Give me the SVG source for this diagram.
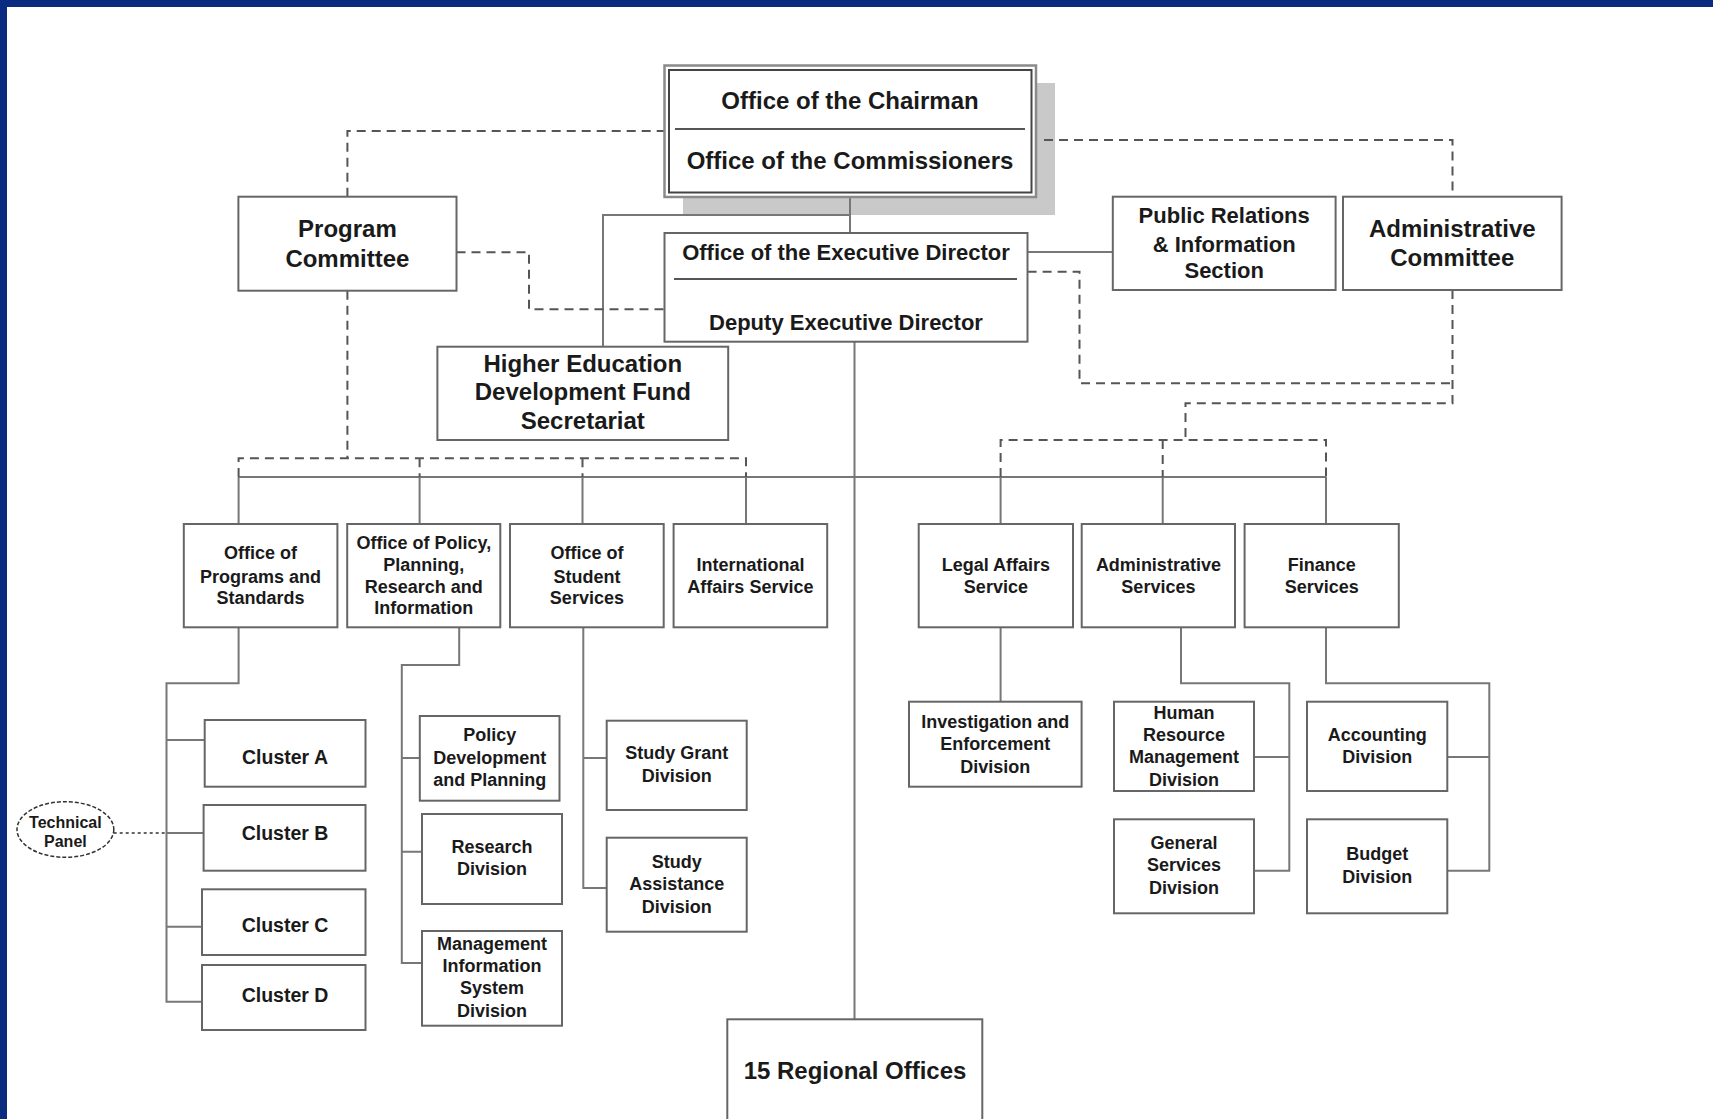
<svg xmlns="http://www.w3.org/2000/svg" width="1713" height="1119" viewBox="0 0 1713 1119">
<style>
.box{fill:#fff;stroke:#666;stroke-width:2}
.t{font-family:"Liberation Sans",Arial,sans-serif;font-weight:bold;fill:#1a1a1a;text-anchor:middle;dominant-baseline:central}
.s18{font-size:18px}
.conn{stroke:#777;stroke-width:2;fill:none}
.dash{stroke:#555;stroke-width:2;stroke-dasharray:9 6;fill:none}
.dot{stroke:#333;stroke-width:1.5;stroke-dasharray:3 3;fill:none}
</style>
<rect x="0" y="0" width="1713" height="1119" fill="#fff"/>
<rect x="0" y="0" width="1713" height="7" fill="#0a2b80"/>
<rect x="0" y="0" width="7" height="1119" fill="#0a2b80"/>
<rect x="683" y="83" width="372" height="132" fill="#c9c9c9"/>
<g id="connectors">
<path class="conn" d="M850 197V233M850 215H603V346.7M1027.6 252H1112.8M854.5 341.7V1019.3M238.6 477H1326"/>
<path class="conn" d="M238.6 477V524M419.6 477V524M582.5 477V524M746 477V524M1000.6 477V524M1162.7 477V524M1326 477V524"/>
<path class="conn" d="M238.6 627.3V683.3H166.5V1001.7H202M166.5 740H204.7M166.5 833H203.6M166.5 926.7H202"/>
<path class="conn" d="M459.2 627.3V665H401.8V963H422M401.8 758H419.8M401.8 851.7H422"/>
<path class="conn" d="M583.3 627.3V888H606.7M583.3 758H606.7"/>
<path class="conn" d="M1000.6 627.3V701.7"/>
<path class="conn" d="M1181 627.3V683.3H1289.3V870.7H1254M1289.3 757H1254"/>
<path class="conn" d="M1326 627.3V683.3H1489.3V870.7H1447.3M1489.3 757H1447.3"/>
<path class="dash" d="M347.4 196.7V131H664.5"/>
<path class="dash" d="M456.5 252.3H529V309.3H664.5"/>
<path class="dash" d="M347.4 290.7V458.3"/>
<path class="dash" d="M238.6 477V458.3H746V477M419.6 458.3V477M582.5 458.3V477"/>
<path class="dash" d="M1044 140H1452.5V196.7"/>
<path class="dash" d="M1027.6 271.7H1079.5V383.3H1452.5"/>
<path class="dash" d="M1452.5 290V403.3H1185.5V440"/>
<path class="dash" d="M1000.6 477V440H1326V477M1162.7 440V477"/>
<path class="dot" d="M113.7 833H166.5"/>
</g>
<g id="chairman">
<rect x="664.5" y="65.5" width="371.5" height="131.5" fill="#fff" stroke="#8a8a8a" stroke-width="2.5"/>
<rect x="669" y="70" width="362.5" height="122.5" fill="none" stroke="#444" stroke-width="2"/>
<path d="M675 129H1025" stroke="#555" stroke-width="2"/>
<text class="t" x="850" y="100" font-size="24">Office of the Chairman</text>
<text class="t" x="850" y="160" font-size="24">Office of the Commissioners</text>
</g>
<g id="exec">
<rect class="box" x="664.5" y="233" width="363" height="108.7"/>
<path d="M674 279H1017" stroke="#555" stroke-width="2"/>
<text class="t" x="846" y="252" font-size="22">Office of the Executive Director</text>
<text class="t" x="846" y="322" font-size="22">Deputy Executive Director</text>
</g>
<g id="program-committee">
<rect class="box" x="238.4" y="196.7" width="218.1" height="94"/>
<text class="t" x="347.4" y="228" font-size="24">Program</text>
<text class="t" x="347.4" y="258" font-size="24">Committee</text>
</g>
<g id="hedf">
<rect class="box" x="437.4" y="346.7" width="290.8" height="93.3"/>
<text class="t" x="582.8" y="363" font-size="24">Higher Education</text>
<text class="t" x="582.8" y="391.7" font-size="24">Development Fund</text>
<text class="t" x="582.8" y="420" font-size="24">Secretariat</text>
</g>
<g id="public-relations">
<rect class="box" x="1112.8" y="196.7" width="222.8" height="93.3"/>
<text class="t" x="1224.2" y="215" font-size="22">Public Relations</text>
<text class="t" x="1224.2" y="244" font-size="22">&amp; Information</text>
<text class="t" x="1224.2" y="270" font-size="22">Section</text>
</g>
<g id="admin-committee">
<rect class="box" x="1343" y="196.7" width="218.6" height="93.3"/>
<text class="t" x="1452.3" y="228.3" font-size="24">Administrative</text>
<text class="t" x="1452.3" y="257.3" font-size="24">Committee</text>
</g>
<g id="programs-standards">
<rect class="box" x="183.8" y="524" width="153.6" height="103.3"/>
<text class="t s18" x="260.6" y="553.3">Office of</text>
<text class="t s18" x="260.6" y="576.7">Programs and</text>
<text class="t s18" x="260.6" y="598.3">Standards</text>
</g>
<g id="policy-planning">
<rect class="box" x="347.2" y="524" width="153.1" height="103.3"/>
<text class="t s18" x="423.8" y="543.3">Office of Policy,</text>
<text class="t s18" x="423.8" y="565">Planning,</text>
<text class="t s18" x="423.8" y="586.7">Research and</text>
<text class="t s18" x="423.8" y="608.3">Information</text>
</g>
<g id="student-services">
<rect class="box" x="510" y="524" width="153.7" height="103.3"/>
<text class="t s18" x="586.9" y="553.3">Office of</text>
<text class="t s18" x="586.9" y="576.7">Student</text>
<text class="t s18" x="586.9" y="598.3">Services</text>
</g>
<g id="international">
<rect class="box" x="673.6" y="524" width="153.6" height="103.3"/>
<text class="t s18" x="750.4" y="565">International</text>
<text class="t s18" x="750.4" y="586.7">Affairs Service</text>
</g>
<g id="legal">
<rect class="box" x="918.7" y="524" width="154.3" height="103.3"/>
<text class="t s18" x="995.9" y="565">Legal Affairs</text>
<text class="t s18" x="995.9" y="586.7">Service</text>
</g>
<g id="admin-services">
<rect class="box" x="1081.7" y="524" width="153.3" height="103.3"/>
<text class="t s18" x="1158.4" y="565">Administrative</text>
<text class="t s18" x="1158.4" y="586.7">Services</text>
</g>
<g id="finance">
<rect class="box" x="1244.6" y="524" width="154.2" height="103.3"/>
<text class="t s18" x="1321.7" y="565">Finance</text>
<text class="t s18" x="1321.7" y="586.7">Services</text>
</g>
<g id="cluster-a">
<rect class="box" x="204.7" y="720" width="160.8" height="66.7"/>
<text class="t" x="285" y="756.7" font-size="19.5">Cluster A</text>
</g>
<g id="cluster-b">
<rect class="box" x="203.6" y="805" width="161.9" height="65.7"/>
<text class="t" x="285" y="832.7" font-size="19.5">Cluster B</text>
</g>
<g id="cluster-c">
<rect class="box" x="202" y="889.3" width="163.5" height="65.7"/>
<text class="t" x="285" y="925" font-size="19.5">Cluster C</text>
</g>
<g id="cluster-d">
<rect class="box" x="202" y="965" width="163.5" height="65"/>
<text class="t" x="285" y="995" font-size="19.5">Cluster D</text>
</g>
<g id="technical-panel">
<ellipse cx="65.4" cy="829.5" rx="48.4" ry="27.8" fill="#fff" stroke="#333" stroke-width="1.5" stroke-dasharray="4 2"/>
<text class="t" x="65.4" y="822.7" font-size="16">Technical</text>
<text class="t" x="65.4" y="841.7" font-size="16">Panel</text>
</g>
<g id="policy-development">
<rect class="box" x="419.8" y="716" width="139.7" height="84.7"/>
<text class="t s18" x="489.7" y="735">Policy</text>
<text class="t s18" x="489.7" y="758.3">Development</text>
<text class="t s18" x="489.7" y="780">and Planning</text>
</g>
<g id="research">
<rect class="box" x="422" y="814" width="140" height="90"/>
<text class="t s18" x="492" y="846.7">Research</text>
<text class="t s18" x="492" y="869.3">Division</text>
</g>
<g id="mis">
<rect class="box" x="422" y="931" width="140" height="94.7"/>
<text class="t s18" x="492" y="944">Management</text>
<text class="t s18" x="492" y="966">Information</text>
<text class="t s18" x="492" y="988.3">System</text>
<text class="t s18" x="492" y="1010.7">Division</text>
</g>
<g id="study-grant">
<rect class="box" x="606.7" y="720.7" width="140" height="89.3"/>
<text class="t s18" x="676.7" y="753.3">Study Grant</text>
<text class="t s18" x="676.7" y="776">Division</text>
</g>
<g id="study-assistance">
<rect class="box" x="606.7" y="837.7" width="140" height="94"/>
<text class="t s18" x="676.7" y="861.7">Study</text>
<text class="t s18" x="676.7" y="884">Assistance</text>
<text class="t s18" x="676.7" y="906.7">Division</text>
</g>
<g id="regional-offices">
<rect class="box" x="727.3" y="1019.3" width="255" height="110"/>
<text class="t" x="855" y="1070.7" font-size="24">15 Regional Offices</text>
</g>
<g id="investigation">
<rect class="box" x="909" y="701.7" width="172.6" height="85"/>
<text class="t s18" x="995.3" y="721.7">Investigation and</text>
<text class="t s18" x="995.3" y="744">Enforcement</text>
<text class="t s18" x="995.3" y="766.7">Division</text>
</g>
<g id="hrmd">
<rect class="box" x="1114" y="701.7" width="140" height="89.3"/>
<text class="t s18" x="1184" y="712.7">Human</text>
<text class="t s18" x="1184" y="735">Resource</text>
<text class="t s18" x="1184" y="757.3">Management</text>
<text class="t s18" x="1184" y="780">Division</text>
</g>
<g id="general-services">
<rect class="box" x="1114" y="819.3" width="140" height="94"/>
<text class="t s18" x="1184" y="842.7">General</text>
<text class="t s18" x="1184" y="865">Services</text>
<text class="t s18" x="1184" y="887.7">Division</text>
</g>
<g id="accounting">
<rect class="box" x="1307" y="701.7" width="140.3" height="89.3"/>
<text class="t s18" x="1377.2" y="735">Accounting</text>
<text class="t s18" x="1377.2" y="757.3">Division</text>
</g>
<g id="budget">
<rect class="box" x="1307" y="819.3" width="140.3" height="94"/>
<text class="t s18" x="1377.2" y="854">Budget</text>
<text class="t s18" x="1377.2" y="876.7">Division</text>
</g>
</svg>
